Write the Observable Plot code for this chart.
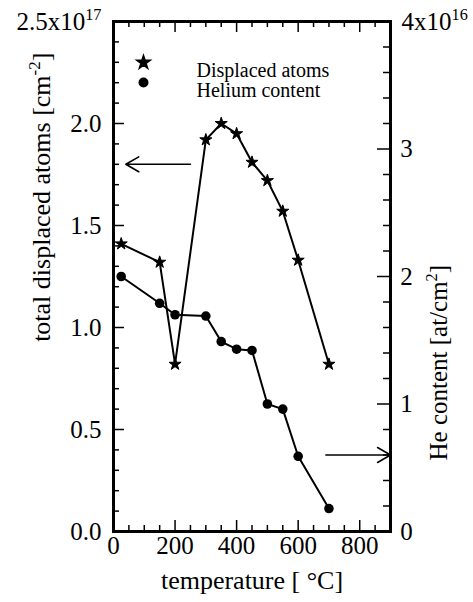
<!DOCTYPE html>
<html><head><meta charset="utf-8">
<script src="https://cdn.jsdelivr.net/npm/d3@7"></script>
<script src="https://cdn.jsdelivr.net/npm/@observablehq/plot@0.6"></script>
<style>
body{margin:0;background:#fff}
#chart svg text, #chart svg tspan { font-family: "Liberation Serif", "Times New Roman", Times, serif; }
</style>
</head><body><div id="chart"></div>
<script>
// Data
const temperatures   = [25, 150, 200, 300, 350, 400, 450, 500, 550, 600, 700];
const displacedAtoms = [1.41, 1.32, 0.82, 1.92, 2.00, 1.95, 1.81, 1.72, 1.57, 1.33, 0.82]; // x10^17 cm^-2
const heliumContent  = [2.00, 1.79, 1.70, 1.69, 1.49, 1.43, 1.42, 1.00, 0.96, 0.59, 0.18]; // x10^16 at/cm^2

const xDomain = [0, 900];
const leftDomain = [0, 2.5];
const rightDomain = [0, 4];
const xTicks = [0, 200, 400, 600, 800];
const xTickLabels = ["0", "200", "400", "600", "800"];
const xMinorTicks = d3.range(0, 901, 50);
const leftTicks = [0, 0.5, 1, 1.5, 2, 2.5];
const leftTickLabels = ["0.0", "0.5", "1.0", "1.5", "2.0", "2.5x10^{17}"];
const leftMinorTicks = d3.range(0, 26).map(i => i / 10);
const rightTicks = [0, 1, 2, 3, 4];
const rightTickLabels = ["0", "1", "2", "3", "4x10^{16}"];
const rightMinorTicks = d3.range(0, 21).map(i => i / 5);
const legendLabels = ["Displaced atoms", "Helium content"];
const arrowLeft = {from: 250, to: 40, value: 1.8};   // points at left axis (displaced atoms)
const arrowRight = {from: 690, to: 900, value: 0.6}; // points at right axis (He content)

const k = leftDomain[1] / rightDomain[1]; // right-axis value -> left-axis scale
const displacedRows = temperatures.map((t, i) => ({t, v: displacedAtoms[i]}));
const heliumRows = temperatures.map((t, i) => ({t, v: heliumContent[i] * k}));

const W = 473, H = 602, mL = 113, mR = 83, mT = 21, mB = 71;
const fw = W - mL - mR, fh = H - mT - mB;
const major = 11, minor = 6;
const font = "Liberation Serif";
const base = 20; // text is set at this size and scaled up afterwards
// target sizes of the text marks, in the order they are listed below
const textSizes = [25, 25, 25, 26, 26, 25, 20, 20];

const chart = Plot.plot({
  width: W, height: H,
  marginLeft: mL, marginRight: mR, marginTop: mT, marginBottom: mB,
  x: {domain: xDomain, axis: null},
  y: {domain: leftDomain, axis: null},
  style: {background: "white", color: "black", overflow: "visible"},
  marks: [
    // ticks (inward)
    Plot.tickX(xMinorTicks.filter(d => d % 200 !== 0), {x: d => d, insetTop: fh - minor, strokeWidth: 1.5}),
    Plot.tickX(xTicks, {x: d => d, insetTop: fh - major, strokeWidth: 1.5}),
    Plot.tickX(xMinorTicks.filter(d => d % 200 !== 0), {x: d => d, insetBottom: fh - minor, strokeWidth: 1.5}),
    Plot.tickX(xTicks, {x: d => d, insetBottom: fh - major, strokeWidth: 1.5}),
    Plot.tickY(leftMinorTicks.filter(d => Math.round(d * 10) % 5 !== 0), {y: d => d, insetRight: fw - minor, strokeWidth: 1.5}),
    Plot.tickY(leftTicks, {y: d => d, insetRight: fw - major, strokeWidth: 1.5}),
    Plot.tickY(rightMinorTicks.filter(d => Math.round(d * 5) % 5 !== 0), {y: d => d * k, insetLeft: fw - minor - 1, strokeWidth: 1.5}),
    Plot.tickY(rightTicks, {y: d => d * k, insetLeft: fw - major - 2, strokeWidth: 1.5}),
    // tick labels
    Plot.text(xTicks, {x: d => d, text: (d, i) => xTickLabels[i], frameAnchor: "bottom", dy: 21, fontFamily: font, fontSize: base}),
    Plot.text(leftTicks, {y: d => d, text: (d, i) => leftTickLabels[i], frameAnchor: "left", textAnchor: "end", dx: -12, fontFamily: font, fontSize: base}),
    Plot.text(rightTicks, {y: d => d * k, text: (d, i) => rightTickLabels[i], frameAnchor: "right", textAnchor: "start", dx: 11, fontFamily: font, fontSize: base}),
    // axis titles
    Plot.text(["temperature [ °C]"], {text: d => d, frameAnchor: "bottom", dy: 56, fontFamily: font, fontSize: base}),
    Plot.text(["total displaced atoms [cm^{-2}]"], {text: d => d, frameAnchor: "left", dx: -72, dy: 32, rotate: -90, fontFamily: font, fontSize: base}),
    Plot.text(["He content [at/cm^{2}]"], {text: d => d, frameAnchor: "right", dx: 48, dy: 8, rotate: -90, fontFamily: font, fontSize: base}),
    // data
    Plot.line(displacedRows, {x: "t", y: "v", stroke: "black", strokeWidth: 2}),
    Plot.dot(displacedRows, {x: "t", y: "v", symbol: "star", r: 3.8, fill: "black", stroke: "black", strokeWidth: 1}),
    Plot.line(heliumRows, {x: "t", y: "v", stroke: "black", strokeWidth: 2}),
    Plot.dot(heliumRows, {x: "t", y: "v", symbol: "circle", r: 4.8, fill: "black"}),
    // arrows
    Plot.arrow([arrowLeft], {x1: "from", x2: "to", y1: "value", y2: "value", stroke: "black", strokeWidth: 1.6, headAngle: 60, headLength: 14}),
    Plot.arrow([arrowRight], {x1: "from", x2: "to", y1: d => d.value * k, y2: d => d.value * k, stroke: "black", strokeWidth: 1.6, headAngle: 60, headLength: 14}),
    // legend
    Plot.dot([legendLabels[0]], {frameAnchor: "top-left", dx: 30, dy: 41, symbol: "star", r: 4.2, fill: "black", stroke: "black"}),
    Plot.dot([legendLabels[1]], {frameAnchor: "top-left", dx: 30, dy: 61, symbol: "circle", r: 5, fill: "black"}),
    Plot.text([legendLabels[0]], {text: d => d, frameAnchor: "top-left", dx: 83, dy: 41, textAnchor: "start", fontSize: base, fontFamily: font}),
    Plot.text([legendLabels[1]], {text: d => d, frameAnchor: "top-left", dx: 83, dy: 61, textAnchor: "start", fontSize: base, fontFamily: font}),
    Plot.frame({stroke: "black", strokeWidth: 3})
  ]
});

// turn ^{...} into real superscript tspans
d3.select(chart).selectAll("text").each(function () {
  const s = this.textContent;
  if (!s.includes("^{")) return;
  const parts = s.split(/(\^\{[^}]*\})/).filter(p => p);
  const sel = d3.select(this);
  sel.text(null);
  let raised = false;
  for (const p of parts) {
    if (p.startsWith("^{")) {
      sel.append("tspan").attr("dy", "-0.62em").attr("font-size", "65%").text(p.slice(2, -1));
      raised = true;
    } else {
      const t = sel.append("tspan").text(p);
      if (raised) { t.attr("dy", "0.40em"); raised = false; }
    }
  }
});

document.getElementById("chart").appendChild(chart);

// scale each text up to its target size around its own anchor point (measured after layout),
// putting the scale in the text's own transform
try {
  const jobs = [];
  d3.select(chart).selectAll('g[aria-label="text"]').each(function (d, gi) {
    const s = (textSizes[gi] || base) / base;
    if (s === 1) return;
    d3.select(this).selectAll("text").each(function () {
      const r = this.getBoundingClientRect();
      const a = getComputedStyle(this).textAnchor;
      const rotated = r.height > r.width * 1.5;
      let px, py;
      if (rotated || a === "middle") { px = (r.left + r.right) / 2; py = (r.top + r.bottom) / 2; }
      else if (a === "end") { px = r.right; py = (r.top + r.bottom) / 2; }
      else { px = r.left; py = (r.top + r.bottom) / 2; }
      jobs.push({node: this, s, px, py});
    });
  });
  for (const {node, s, px, py} of jobs) {
    const inv = node.parentNode.getScreenCTM().inverse();
    const pt = chart.createSVGPoint();
    pt.x = px; pt.y = py;
    const q = pt.matrixTransform(inv);
    const own = node.getAttribute("transform") || "";
    node.setAttribute("transform", `translate(${q.x},${q.y}) scale(${s}) translate(${-q.x},${-q.y}) ${own}`);
  }
} catch (e) { console.error(e); }
</script>
</body></html>
